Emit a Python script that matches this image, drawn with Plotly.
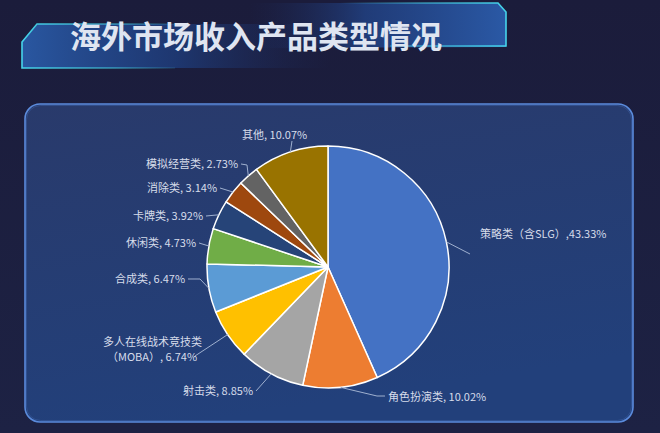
import base64, math
import plotly.graph_objects as go

# ---------------- data ----------------
categories = ["策略类（含SLG）", "角色扮演类", "射击类", "多人在线战术竞技类（MOBA）",
              "合成类", "休闲类", "卡牌类", "消除类", "模拟经营类", "其他"]
values = [43.33, 10.02, 8.85, 6.74, 6.47, 4.73, 3.92, 3.14, 2.73, 10.07]
value_labels = ["43.33%", "10.02%", "8.85%", "6.74%", "6.47%", "4.73%", "3.92%", "3.14%", "2.73%", "10.07%"]
separators = [",", ", ", ", ", ", ", ", ", ", ", ", ", ", ", ", ", ", "]
colors = ["#4472C4", "#ED7D31", "#A5A5A5", "#FFC000", "#5B9BD5",
          "#70AD47", "#264478", "#9E480E", "#636363", "#997300"]

# ---------------- layout geometry (pixels) ----------------
W, H = 660, 433
CX, CY, R = 328, 267, 121          # pie centre / radius

# label anchor (x, y, xanchor) and leader-line waypoints
label_pos = [(479, 233, "left"), (387, 396, "left"), (254, 390, "right"), (152, 348, "center"),
             (186, 278, "right"), (197, 242, "right"), (204, 215, "right"), (218, 187, "right"),
             (239, 163, "right"), (274, 134, "center")]
leader_pts = [[(470, 254)], [(377, 396), (385, 396)], [(256, 391)], [(195, 356)],
              [(200, 279), (188, 279)], [(199, 243)], [(206, 216)], [(220, 188)],
              [(247, 165), (241, 164)], [(292, 141)]]
LINE_GAP = 15   # spacing of the two lines of a wrapped label


def px(x):
    return x / W


def py(y):
    return 1 - y / H


# ---------------- background SVG (banner + panel) ----------------
svg = f'''<svg xmlns="http://www.w3.org/2000/svg" width="{W}" height="{H}" viewBox="0 0 {W} {H}">
<defs>
<linearGradient id="bg" x1="0" y1="0" x2="0" y2="1">
 <stop offset="0" stop-color="#1b1c3b"/><stop offset="1" stop-color="#1d2244"/></linearGradient>
<linearGradient id="panel" x1="0" y1="0" x2="0.3" y2="1">
 <stop offset="0" stop-color="#293a6b"/><stop offset="1" stop-color="#22407b"/></linearGradient>
<linearGradient id="g1" x1="0" y1="0" x2="1" y2="0">
 <stop offset="0" stop-color="#2a5aa6" stop-opacity="0.95"/>
 <stop offset="0.5" stop-color="#1f4286" stop-opacity="0.7"/>
 <stop offset="1" stop-color="#1c2a5a" stop-opacity="0"/></linearGradient>
<linearGradient id="g2" x1="0" y1="0" x2="1" y2="0">
 <stop offset="0" stop-color="#1c2a5a" stop-opacity="0"/>
 <stop offset="0.45" stop-color="#22468c" stop-opacity="0.75"/>
 <stop offset="1" stop-color="#2b5cab" stop-opacity="0.95"/></linearGradient>
<linearGradient id="c1" x1="0" y1="0" x2="1" y2="0">
 <stop offset="0" stop-color="#45d4ea"/><stop offset="0.55" stop-color="#45d4ea" stop-opacity="0.6"/>
 <stop offset="1" stop-color="#45d4ea" stop-opacity="0"/></linearGradient>
<linearGradient id="c2" x1="0" y1="0" x2="1" y2="0">
 <stop offset="0" stop-color="#45d4ea" stop-opacity="0"/><stop offset="0.5" stop-color="#45d4ea" stop-opacity="0.6"/>
 <stop offset="1" stop-color="#45d4ea"/></linearGradient>
</defs>
<rect x="0" y="0" width="{W}" height="{H}" fill="url(#bg)"/>
<path d="M22,68 L22,42 L38,24 L330,24 L330,68 Z" fill="url(#g1)"/>
<path d="M250,48 L250,3 L498,3 L506,12 L506,47 Z" fill="url(#g2)"/>
<path d="M175,68 L22,68 L22,42 L37,24 L190,24" fill="none" stroke="url(#c1)" stroke-width="1.6"/>
<path d="M340,3 L498,3 L506,12 L506,46 L390,46" fill="none" stroke="url(#c2)" stroke-width="1.6"/>
<rect x="25" y="104" width="608" height="318" rx="15" ry="15" fill="url(#panel)"
 stroke="#5b8bdc" stroke-width="1.6"/>
<rect x="26.5" y="105.5" width="605" height="315" rx="14" ry="14" fill="none"
 stroke="#3d62a8" stroke-opacity="0.5" stroke-width="1"/>
</svg>'''
svg_uri = "data:image/svg+xml;base64," + base64.b64encode(svg.encode("utf-8")).decode()

fig = go.Figure()

fig.add_trace(go.Pie(
    labels=categories,
    values=values,
    sort=False,
    direction="clockwise",
    rotation=0,
    marker=dict(colors=colors, line=dict(color="#ffffff", width=1.5)),
    textinfo="none",
    hoverinfo="label+percent",
    showlegend=False,
    domain=dict(x=[px(CX) - 0.3, px(CX) + 0.3],
                y=[1 - (CY + R) / H, 1 - (CY - R) / H]),
))

shapes = []
annotations = []
total = sum(values)
cum = 0.0
label_font = dict(family="Noto Sans CJK SC, sans-serif", size=11, color="#d6dcea")
for i, v in enumerate(values):
    mid = (cum + v / 2) / total
    cum += v
    ang = 2 * math.pi * mid
    sx = CX + R * math.sin(ang)
    sy = CY - R * math.cos(ang)
    pts = [(sx, sy)] + leader_pts[i]
    d = "M" + " L".join(f"{px(x):.5f},{py(y):.5f}" for x, y in pts)
    shapes.append(dict(type="path", path=d, xref="paper", yref="paper",
                       line=dict(color="#9fb0cf", width=1), layer="above"))
    lx, ly, xa = label_pos[i]
    full = f"{categories[i]}{separators[i]}{value_labels[i]}"
    if "（MOBA）" in categories[i]:
        cut = full.index("（")
        lines = [full[:cut], full[cut:]]
    else:
        lines = [full]
    n = len(lines)
    for k, t in enumerate(lines):
        yy = ly + (k - (n - 1) / 2) * LINE_GAP
        annotations.append(dict(
            text=t, x=px(lx), y=py(yy), xref="paper", yref="paper",
            xanchor=xa, yanchor="middle", align="center", valign="middle",
            borderpad=0, showarrow=False, font=label_font))

# title
annotations.append(dict(
    text="海外市场收入产品类型情况",
    x=px(256), y=py(34), xref="paper", yref="paper",
    xanchor="center", yanchor="middle", showarrow=False,
    font=dict(family="Noto Sans CJK SC, sans-serif", size=31, color="#dfe5f1", weight="bold")))

fig.update_layout(
    width=W, height=H,
    margin=dict(l=0, r=0, t=0, b=0),
    paper_bgcolor="#1c1d3e",
    plot_bgcolor="#1c1d3e",
    shapes=shapes,
    annotations=annotations,
    images=[dict(source=svg_uri, xref="paper", yref="paper", x=0, y=1,
                 sizex=1, sizey=1, xanchor="left", yanchor="top",
                 sizing="stretch", layer="below")],
)

fig.write_html("out.html", config={"displayModeBar": False},
               post_script="document.body.style.margin='0';document.body.style.background='#1c1d3e';")
